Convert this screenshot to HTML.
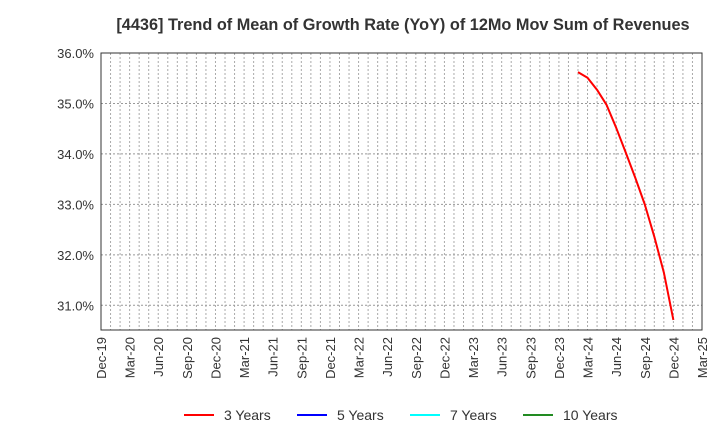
<!DOCTYPE html>
<html><head><meta charset="utf-8"><style>
body{margin:0;background:#fff;font-family:"Liberation Sans",sans-serif;}
svg text{font-family:"Liberation Sans",sans-serif;}
</style></head><body>
<svg id="c" width="720" height="440" xmlns="http://www.w3.org/2000/svg">
<text x="403" y="30" text-anchor="middle" font-size="16.3" font-weight="bold" fill="#333">[4436]  Trend of Mean of Growth Rate (YoY) of 12Mo Mov Sum of Revenues</text>
<g id="grid"></g><g id="axes"></g><g id="series"></g>
<g>
<g><line x1="184" y1="415" x2="214" y2="415" stroke="#f00" stroke-width="2"/><text x="224" y="420" font-size="14" fill="#333">3 Years</text></g>
<g><line x1="297" y1="415" x2="327" y2="415" stroke="#00f" stroke-width="2"/><text x="337" y="420" font-size="14" fill="#333">5 Years</text></g>
<g><line x1="410" y1="415" x2="440" y2="415" stroke="#0ff" stroke-width="2"/><text x="450" y="420" font-size="14" fill="#333">7 Years</text></g>
<g><line x1="523" y1="415" x2="553" y2="415" stroke="#228b22" stroke-width="2"/><text x="563" y="420" font-size="14" fill="#333">10 Years</text></g>
</g>
</svg>
<script>
const xTickLabels=["Dec-19","Mar-20","Jun-20","Sep-20","Dec-20","Mar-21","Jun-21","Sep-21","Dec-21","Mar-22","Jun-22","Sep-22","Dec-22","Mar-23","Jun-23","Sep-23","Dec-23","Mar-24","Jun-24","Sep-24","Dec-24","Mar-25"];
const yTicks=[31,32,33,34,35,36];
const monthIdx3=[50,51,52,53,54,55,56,57,58,59,60];
const values3=[35.62,35.51,35.27,34.97,34.52,34.03,33.53,33.0,32.36,31.65,30.71];
const L=101,R=702,T=53,B=330,yMin=30.51,yMax=36.0,nMonths=63;
const xs=m=>L+(R-L)*m/nMonths;
const ys=v=>B-(B-T)*(v-yMin)/(yMax-yMin);
const NS="http://www.w3.org/2000/svg";
function mk(p,tag,a){const e=document.createElementNS(NS,tag);for(const k in a)e.setAttribute(k,a[k]);p.appendChild(e);return e;}
const grid=document.getElementById('grid'),axes=document.getElementById('axes'),series=document.getElementById('series');
for(let m=1;m<nMonths;m++){const l=mk(grid,'line',{x1:xs(m),x2:xs(m),y1:T,y2:B,stroke:'#aaa','stroke-width':1,'stroke-dasharray':'2,2'});

}
yTicks.forEach(v=>{const l=mk(grid,'line',{x1:L,x2:R,y1:ys(v),y2:ys(v),stroke:'#999','stroke-width':1,'stroke-dasharray':'2,2'});


const t=mk(axes,'text',{x:L-7,y:ys(v)+5,'text-anchor':'end','font-size':13,fill:'#333'});t.textContent=v.toFixed(1)+'%';

});
const fr=mk(axes,'rect',{x:L,y:T,width:R-L,height:B-T,fill:'none',stroke:'#333','stroke-width':1});


xTickLabels.forEach((s,i)=>{const x=xs(i*3);const t=mk(axes,'text',{x:x+5,y:337,'text-anchor':'end','font-size':13,fill:'#333',transform:`rotate(-90 ${x+5} 337)`});t.textContent=s;

});
const pts=values3.map((v,i)=>xs(monthIdx3[i])+','+ys(v)).join(' ');
const pl=mk(series,'polyline',{points:pts,fill:'none',stroke:'#f00','stroke-width':2,'stroke-linejoin':'round'});


</script>
</body></html>
